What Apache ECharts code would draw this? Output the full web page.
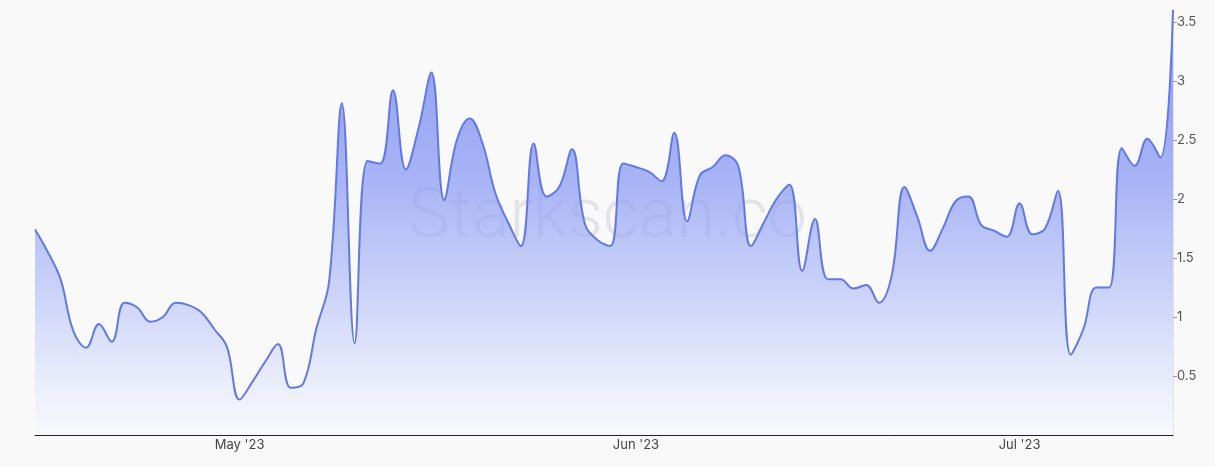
<!DOCTYPE html>
<html>
<head>
<meta charset="utf-8">
<script src="https://cdn.jsdelivr.net/npm/echarts@6/dist/echarts.min.js"></script>
<style>
html,body{margin:0;padding:0;background:#f9f9f9;}
#chart{width:1215px;height:467px;}
</style>
</head>
<body>
<div id="chart"></div>
<script>
// Daily values, 2023-04-15 .. 2023-07-13
const startDate = '2023-04-15';
const values = [
  1.74, 1.55, 1.32, 0.88, 0.74, 0.94, 0.79, 1.12, 1.08, 0.96,
  1.00, 1.12, 1.10, 1.04, 0.90, 0.75, 0.30, 0.45, 0.62, 0.77,
  0.40, 0.44, 0.90, 1.30, 2.81, 0.78, 2.32, 2.30, 2.92, 2.25,
  2.60, 3.07, 1.99, 2.50, 2.68, 2.47, 2.05, 1.80, 1.60, 2.47,
  2.02, 2.10, 2.42, 1.79, 1.65, 1.60, 2.30, 2.27, 2.23, 2.15,
  2.56, 1.81, 2.20, 2.27, 2.37, 2.28, 1.60, 1.80, 2.00, 2.12,
  1.39, 1.83, 1.32, 1.32, 1.24, 1.27, 1.12, 1.35, 2.10, 1.85,
  1.56, 1.75, 1.98, 2.02, 1.78, 1.73, 1.68, 1.96, 1.70, 1.75,
  2.07, 0.68, 0.90, 1.25, 1.25, 2.43, 2.28, 2.51, 2.35, 3.60
];
const yTicks = [0.5, 1, 1.5, 2, 2.5, 3, 3.5];
const monthNames = ['Jan','Feb','Mar','Apr','May','Jun','Jul','Aug','Sep','Oct','Nov','Dec'];

const categories = [];
{
  const d0 = new Date(startDate + 'T00:00:00Z');
  for (let i = 0; i < values.length; i++) {
    const d = new Date(d0.getTime() + i * 86400000);
    categories.push(d.toISOString().slice(0, 10));
  }
}

const chart = echarts.init(document.getElementById('chart'));
chart.setOption({
  backgroundColor: '#f9f9f9',
  animation: false,
  grid: { left: 35, right: 42, top: 10, bottom: 32 },
  graphic: [{
    type: 'text',
    left: 'center',
    top: 184,
    z: 0,
    style: {
      text: 'Starkscan.co',
      font: '300 70px Roboto, "Open Sans", sans-serif',
      fill: 'rgba(100,100,125,0.14)'
    }
  }],
  xAxis: {
    type: 'category',
    data: categories,
    boundaryGap: false,
    axisLine: { lineStyle: { color: '#222', width: 1 } },
    axisTick: { show: false },
    axisLabel: {
      color: '#444',
      fontSize: 13,
      fontFamily: 'Inter, "Noto Sans", sans-serif',
      margin: 4,
      interval: function (idx, val) { return val.slice(8, 10) === '01'; },
      formatter: function (val) {
        const m = parseInt(val.slice(5, 7), 10) - 1;
        return monthNames[m] + " '" + val.slice(2, 4);
      }
    },
    splitLine: { show: false }
  },
  yAxis: {
    type: 'value',
    position: 'right',
    min: 0,
    max: 3.6,
    interval: 0.5,
    axisLine: { show: true, lineStyle: { color: '#e2e2e6' } },
    axisTick: { show: true, length: 4, lineStyle: { color: '#999' } },
    axisLabel: {
      color: '#555',
      fontSize: 13,
      fontFamily: 'Inter, "Noto Sans", sans-serif',
      margin: 4,
      showMinLabel: false,
      showMaxLabel: false,
      formatter: function (v) { return yTicks.indexOf(v) >= 0 ? String(v) : ''; }
    },
    splitLine: { show: false }
  },
  series: [{
    type: 'line',
    data: values,
    smooth: 0.4,
    symbol: 'none',
    z: 2,
    lineStyle: { color: '#6479e0', width: 2 },
    areaStyle: {
      color: new echarts.graphic.LinearGradient(0, 0, 0, 1, [
        { offset: 0, color: 'rgba(95,115,238,1)' },
        { offset: 0.4, color: 'rgba(132,150,244,1)' },
        { offset: 0.7, color: 'rgba(185,196,250,0.92)' },
        { offset: 1, color: 'rgba(246,248,255,0.7)' }
      ])
    }
  }]
});
</script>
</body>
</html>
